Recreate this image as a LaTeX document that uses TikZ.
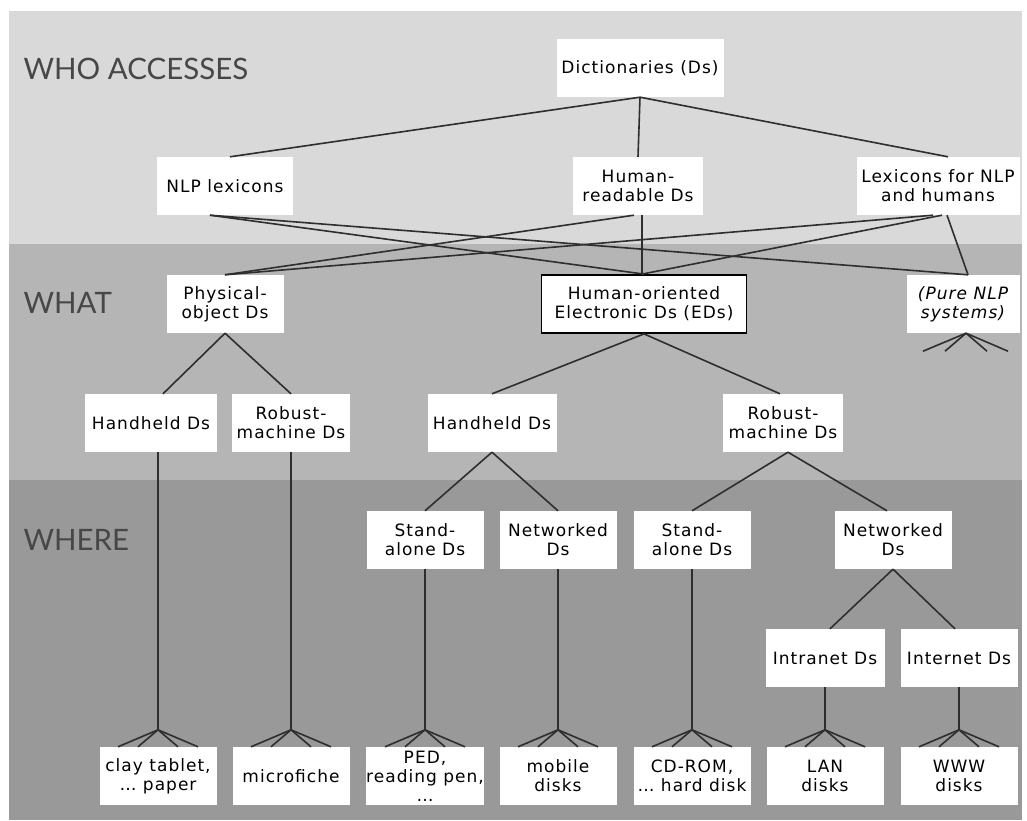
\documentclass[tikz,border=0pt]{standalone}
\usepackage{fontspec}
\setmainfont[LetterSpace=6]{DejaVu Sans}
\newfontfamily\bandfont{Lato}
\usepackage{tikz}
\usetikzlibrary{positioning}

\definecolor{bandA}{HTML}{D9D9D9}
\definecolor{bandB}{HTML}{B5B5B5}
\definecolor{bandC}{HTML}{999999}
\definecolor{bandtext}{HTML}{474747}
\definecolor{edgegray}{HTML}{2E2E2E}

\begin{document}
\begin{tikzpicture}[
  x=1pt, y=1pt,
  every node/.style={font=\fontsize{17}{19}\selectfont},
  box/.style={rectangle, fill=white, align=center, inner sep=0pt, minimum height=58pt, minimum width=117pt},
  framed/.style={box, draw=black, line width=1.8pt},
  band/.style={anchor=west, text=bandtext, font=\bandfont\fontsize{29.5}{31}\selectfont},
  line/.style={draw=edgegray, line width=1.6pt}
]
\useasboundingbox (0,0) rectangle (1027,-821);

% the three levels
\fill[bandA] (9,-11) rectangle (1022,-244);
\fill[bandB] (9,-244) rectangle (1022,-480);
\fill[bandC] (9,-480) rectangle (1022,-820);

\node[band] (who) at (20,-69) {WHO ACCESSES};
\node[band] (what) at (20,-303) {WHAT};
\node[band] (where) at (20,-540) {WHERE};

% who accesses
\node[box, minimum width=167pt] (dict) at (640,-68) {Dictionaries (Ds)};
\node[box, minimum width=136pt] (nlp) at (225,-186) {NLP lexicons};
\node[box, minimum width=130pt] (hread) at (638,-186) {Human-\\readable Ds};
\node[box, minimum width=163pt] (lexb) at (938,-186) {Lexicons for NLP\\and humans};

% what
\node[box] (phys) at (225,-304) {Physical-\\object Ds};
\node[framed, minimum width=205pt] (heds) at (644,-304) {Human-oriented\\Electronic Ds (EDs)};
\node[box, minimum width=113pt] (pnlp) at (963,-304) {\itshape (Pure NLP\\\itshape systems)};

\node[box, minimum width=132pt] (hh1) at (151,-423) {Handheld Ds};
\node[box, minimum width=118pt] (rm1) at (291,-423) {Robust-\\machine Ds};
\node[box, minimum width=129pt] (hh2) at (492,-423) {Handheld Ds};
\node[box, minimum width=120pt] (rm2) at (783,-423) {Robust-\\machine Ds};

% where
\node[box] (sa1) at (425,-540) {Stand-\\alone Ds};
\node[box] (nw1) at (558,-540) {Networked\\Ds};
\node[box] (sa2) at (692,-540) {Stand-\\alone Ds};
\node[box] (nw2) at (893,-540) {Networked\\Ds};

\node[box, minimum width=119pt] (intra) at (825,-658) {Intranet Ds};
\node[box] (inter) at (959,-658) {Internet Ds};

\node[box] (clay) at (158,-776) {clay tablet,\\\dots\ paper};
\node[box] (micro) at (291,-776) {microfiche};
\node[box] (ped) at (425,-776) {PED,\\reading pen,\\\dots};
\node[box] (mobile) at (558,-776) {mobile\\disks};
\node[box] (cdrom) at (692,-776) {CD-ROM,\\\dots\ hard disk};
\node[box] (lan) at (825,-776) {LAN\\disks};
\node[box] (www) at (959,-776) {WWW\\disks};

% links between who and what
\draw[line] (dict.south) -- ([xshift=5pt]nlp.north);
\draw[line] (dict.south) -- (hread.north);
\draw[line] (dict.south) -- ([xshift=10pt]lexb.north);

\draw[line] ([xshift=-15pt]nlp.south) -- (heds.north);
\draw[line] ([xshift=-15pt]nlp.south) -- ([xshift=5pt]pnlp.north);
\draw[line] ([xshift=-4pt]hread.south) -- (phys.north);
\draw[line] ([xshift=4pt]hread.south) -- ([xshift=-2pt]heds.north);
\draw[line] ([xshift=-5pt]lexb.south) -- (phys.north);
\draw[line] ([xshift=4pt]lexb.south) -- ([xshift=-2pt]heds.north);
\draw[line] ([xshift=9pt]lexb.south) -- ([xshift=5pt]pnlp.north);

\foreach \d in {-43,-21,21,42}
  \draw[line] ([xshift=3pt]pnlp.south) -- ++(\d,-18);

% tree below
\draw[line] (phys.south) -- ([xshift=12pt]hh1.north);
\draw[line] (phys.south) -- (rm1.north);
\draw[line] (heds.south) -- (hh2.north);
\draw[line] (heds.south) -- ([xshift=-3pt]rm2.north);
\draw[line] (hh2.south) -- (sa1.north);
\draw[line] (hh2.south) -- (nw1.north);
\draw[line] ([xshift=5pt]rm2.south) -- (sa2.north);
\draw[line] ([xshift=5pt]rm2.south) -- ([xshift=-6pt]nw2.north);
\draw[line] (nw2.south) -- ([xshift=5pt]intra.north);
\draw[line] (nw2.south) -- ([xshift=-4pt]inter.north);

% roots above the media
\foreach \p/\l in {hh1/clay, rm1/micro, sa1/ped, nw1/mobile, sa2/cdrom, intra/lan, inter/www} {
  \coordinate (\l-root) at ([yshift=17pt]\l.north);
  \draw[line] (\p.south -| \l-root) -- (\l-root);
  \foreach \d in {-40,-20,20,40}
    \draw[line] (\l-root) -- ([xshift=\d pt]\l.north);
}

\end{tikzpicture}
\end{document}
